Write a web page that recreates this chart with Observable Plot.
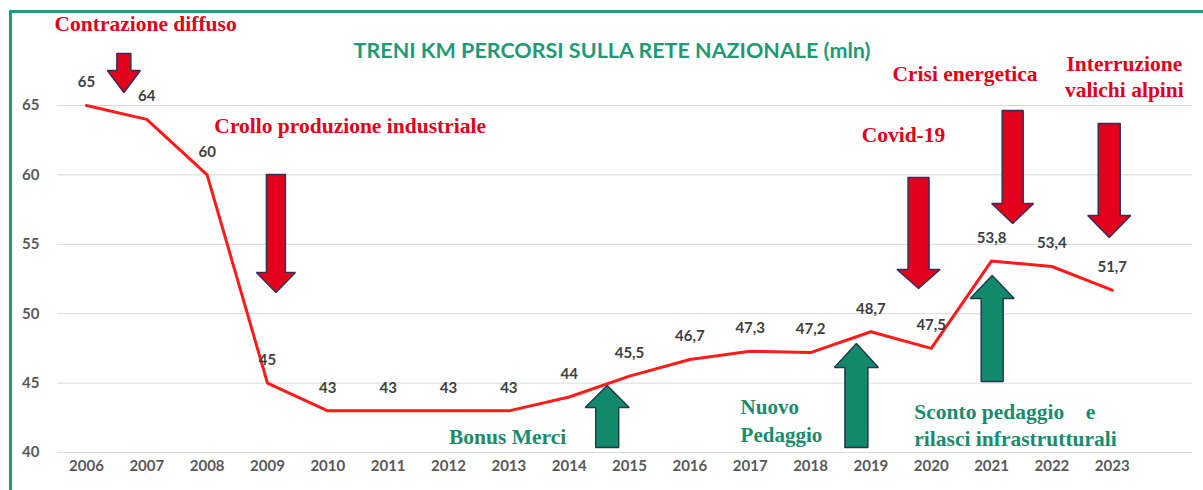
<!DOCTYPE html>
<html>
<head>
<meta charset="utf-8">
<script src="https://cdn.jsdelivr.net/npm/d3@7"></script>
<script src="https://cdn.jsdelivr.net/npm/@observablehq/plot@0.6"></script>
<style>
  html, body { margin: 0; padding: 0; background: #fff; overflow: hidden; }
  #wrap { position: relative; width: 1203px; height: 490px; overflow: hidden; }
  #border { position: absolute; left: 9px; top: 10px; width: 1300px; height: 600px; border: 3px solid #239a78; box-sizing: border-box; }
  #chart { position: absolute; left: 0; top: 0; }
  svg text { white-space: pre; }
</style>
</head>
<body>
<div id="wrap"><div id="border"></div><div id="chart"></div></div>
<script>
// ---- data ----
const years = [2006, 2007, 2008, 2009, 2010, 2011, 2012, 2013, 2014, 2015, 2016, 2017, 2018, 2019, 2020, 2021, 2022, 2023];
const values = [65, 64, 60, 45, 43, 43, 43, 43, 44, 45.5, 46.7, 47.3, 47.2, 48.7, 47.5, 53.8, 53.4, 51.7];
const yTicks = [40, 45, 50, 55, 60, 65];
const title = "TRENI KM PERCORSI SULLA RETE NAZIONALE (mln)";

// negative events (red) : text, anchor year, anchor value
const redNotes = ["Contrazione diffuso", "Crollo produzione industriale", "Covid-19", "Crisi energetica", "Interruzione\nvalichi alpini"];
const redNoteYear = [2006.98, 2010.37, 2019.54, 2020.56, 2023.2];
const redNoteValue = [70.98, 63.63, 62.98, 67.38, 67.16];

// positive events (green)
const greenNotes = ["Bonus Merci", "Nuovo\nPedaggio", "Sconto pedaggio    e\nrilasci infrastrutturali"];
const greenNoteYear = [2012.98, 2016.84, 2019.72];
const greenNoteValue = [41.08, 42.38, 42.05];

// arrows: year, base value, tip value
const redArrowYear = [2006.62, 2009.14, 2019.79, 2021.35, 2022.95];
const redArrowFrom = [68.75, 60.03, 59.81, 64.64, 63.70];
const redArrowTo = [65.94, 51.53, 51.82, 56.50, 55.49];
const greenArrowYear = [2014.63, 2018.76, 2021.01];
const greenArrowFrom = [40.36, 40.36, 45.12];
const greenArrowTo = [44.83, 47.85, 52.75];

// ---- layout ----
const W = 1203, H = 490;
const mL = 57, mR = 11, mT = 105, mB = 38;
const xDomain = [2005.52, 2024.33];
const yDomain = [40, 65];
const pxPerYear = (W - mL - mR) / (xDomain[1] - xDomain[0]);
const pxPerValue = (H - mT - mB) / (yDomain[1] - yDomain[0]);

const series = years.map((y, i) => ({year: y, value: values[i], label: String(values[i]).replace(".", ",")}));

function arrowPolys(xs, from, to, sizes) {
  const pts = [];
  xs.forEach((x, i) => {
    const [shaft, head, headLen] = sizes[i];
    const hw = shaft / 2 / pxPerYear, hh = head / 2 / pxPerYear;
    const dir = Math.sign(to[i] - from[i]);
    const neck = to[i] - dir * headLen / pxPerValue;
    const poly = [
      [x - hw, from[i]], [x - hw, neck], [x - hh, neck], [x, to[i]],
      [x + hh, neck], [x + hw, neck], [x + hw, from[i]], [x - hw, from[i]]
    ];
    poly.forEach(([px, py]) => pts.push({id: i, x: px, y: py}));
  });
  return pts;
}
const redSizes = [[14, 33, 22], [19, 39, 20], [21, 43, 19], [21, 42, 20], [22, 43, 22]];
const greenSizes = [[23, 44, 22], [23, 44, 24], [22, 44, 23]];
const redArrows = arrowPolys(redArrowYear, redArrowFrom, redArrowTo, redSizes);
const greenArrows = arrowPolys(greenArrowYear, greenArrowFrom, greenArrowTo, greenSizes);

const sans = "Lato, 'Open Sans', sans-serif";
const serif = "'Liberation Serif', 'DejaVu Serif', serif";

const chart = Plot.plot({
  width: W, height: H,
  marginLeft: mL, marginRight: mR, marginTop: mT, marginBottom: mB,
  x: {domain: xDomain, axis: null},
  y: {domain: yDomain, axis: null},
  style: {fontFamily: sans, background: "transparent", overflow: "visible"},
  marks: [
    Plot.ruleY(yTicks, {stroke: "#d9d9d9", strokeWidth: 1}),
    // y tick labels
    Plot.text(yTicks, {y: d => d, text: d => String(d), frameAnchor: "left", dx: -18, textAnchor: "end",
      fontSize: 15, fontWeight: "bold", fill: "#595959"}),
    // x tick labels
    Plot.text(years, {x: d => d, text: d => String(d), frameAnchor: "bottom", dy: 18,
      fontSize: 15, fontWeight: "bold", fill: "#595959"}),
    // title
    Plot.text([title], {text: d => d, frameAnchor: "top", dx: -13, dy: -63,
      fontSize: 21.5, fontWeight: "bold", fill: "#1e9a74"}),
    // arrows
    Plot.line(redArrows, {x: "x", y: "y", z: "id", fill: "#e2001a", stroke: "#3a2d5c", strokeWidth: 1.5, strokeLinejoin: "miter", curve: "linear"}),
    Plot.line(greenArrows, {x: "x", y: "y", z: "id", fill: "#12896b", stroke: "#1f3b50", strokeWidth: 1.5, strokeLinejoin: "miter", curve: "linear"}),
    // series line
    Plot.line(series, {x: "year", y: "value", stroke: "#ff1a1a", strokeWidth: 3, curve: "linear"}),
    // data labels
    Plot.text(series, {x: "year", y: "value", text: "label", dy: -23,
      fontSize: 15, fontWeight: "bold", fill: "#404040"}),
    // red annotations
    Plot.text(redNotes, {x: (d, i) => redNoteYear[i], y: (d, i) => redNoteValue[i], text: d => d,
      fontFamily: serif, fontSize: 21.5, fontWeight: "bold", fill: "#e2001a", lineHeight: 1.21}),
    // green annotations
    Plot.text([greenNotes[0]], {x: [greenNoteYear[0]], y: [greenNoteValue[0]], text: d => d,
      fontFamily: serif, fontSize: 21.5, fontWeight: "bold", fill: "#1a8c6c"}),
    Plot.text([greenNotes[1]], {x: [greenNoteYear[1]], y: [greenNoteValue[1]], text: d => d,
      textAnchor: "start", fontFamily: serif, fontSize: 21, fontWeight: "bold", fill: "#1a8c6c", lineHeight: 1.33}),
    Plot.text([greenNotes[2]], {x: [greenNoteYear[2]], y: [greenNoteValue[2]], text: d => d,
      textAnchor: "start", fontFamily: serif, fontSize: 21.5, fontWeight: "bold", fill: "#1a8c6c", lineHeight: 1.26})
  ]
});
document.getElementById("chart").appendChild(chart);
</script>
</body>
</html>
